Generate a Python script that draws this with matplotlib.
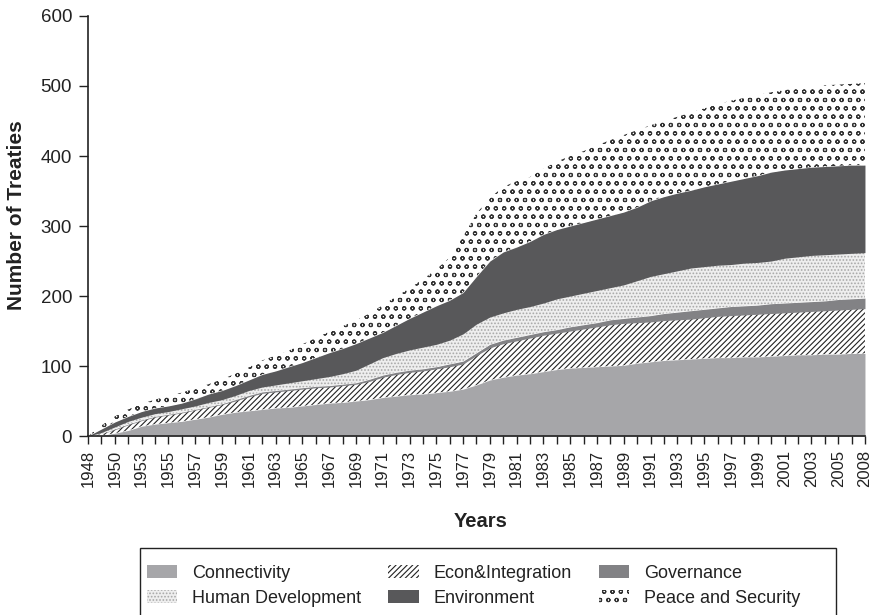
import matplotlib
matplotlib.use("Agg")
import matplotlib.pyplot as plt
from matplotlib.patches import Rectangle
import numpy as np

plt.rcParams['font.family'] = ['Liberation Sans', 'DejaVu Sans']
plt.rcParams['hatch.linewidth'] = 0.8

# years on the category axis (two years are absent in the source)
years = [1948, 1949, 1950] + list(range(1952, 2007)) + [2008]

connectivity = [0, 1, 4, 8, 14, 17, 19, 21, 24, 27, 31, 34, 36, 38, 40, 41, 43, 45, 47, 48,
                50, 52, 55, 57, 59, 60, 62, 64, 67, 73, 80, 84, 87, 89, 92, 95, 97, 98, 99, 100,
                101, 104, 106, 108, 109, 110, 111, 112, 112, 113, 113, 114, 115, 116, 116, 117, 117, 118, 118]
econ = [0, 2, 5, 8, 8, 10, 11, 12, 13, 14, 14, 16, 20, 23, 23, 24, 24, 24, 23, 24,
        24, 26, 29, 31, 32, 33, 34, 35, 36, 42, 46, 48, 49, 51, 52, 52, 53, 55, 57, 59,
        60, 58, 57, 57, 57, 57, 58, 59, 60, 60, 61, 61, 61, 61, 62, 62, 63, 63, 64]
governance = [0, 0, 1, 1, 1, 1, 1, 1, 1, 1, 1, 2, 2, 2, 2, 2, 2, 2, 2, 2,
              2, 3, 3, 3, 3, 3, 3, 4, 4, 4, 5, 5, 5, 5, 5, 5, 6, 6, 6, 7,
              7, 8, 9, 10, 11, 12, 12, 12, 13, 13, 13, 14, 14, 14, 14, 14, 15, 15, 15]
human_dev = [0, 2, 3, 4, 4, 4, 4, 5, 5, 6, 6, 6, 7, 7, 8, 9, 10, 11, 13, 15,
             18, 22, 25, 27, 29, 31, 32, 34, 39, 41, 39, 39, 40, 40, 41, 44, 44, 45, 46, 46,
             48, 52, 56, 57, 59, 61, 61, 61, 60, 61, 61, 61, 64, 65, 66, 66, 65, 65, 65]
environment = [0, 5, 7, 7, 8, 8, 8, 8, 10, 12, 13, 14, 15, 18, 20, 23, 26, 30, 34, 36,
               38, 37, 36, 40, 45, 50, 55, 57, 59, 68, 80, 87, 89, 93, 98, 99, 100, 101, 102, 103,
               104, 105, 108, 110, 111, 111, 114, 116, 119, 121, 124, 127, 126, 126, 126, 126, 126, 126, 125]
peace = [0, 5, 8, 10, 11, 12, 14, 15, 15, 14, 16, 17, 18, 20, 22, 23, 26, 28, 30, 32,
         33, 35, 39, 41, 43, 47, 52, 61, 80, 90, 90, 93, 94, 92, 94, 97, 100, 102, 105, 108,
         110, 110, 108, 108, 109, 111, 112, 114, 115, 115, 115, 114, 114, 115, 115, 116, 116, 116, 117]

labels = ['Connectivity', 'Econ&Integration', 'Governance',
          'Human Development', 'Environment', 'Peace and Security']

fig = plt.figure(figsize=(8.73, 6.15), dpi=100)
ax = fig.add_axes([0.1008, 0.291, 0.89, 0.683])

x = np.arange(len(years))
polys = ax.stackplot(x, connectivity, econ, governance, human_dev, environment, peace,
                     labels=labels)

# face colour, hatch, hatch colour
styles = [('#a6a6a9', None, '#8a8a8c'),
          ('white', '//////', '#222222'),
          ('#828285', None, '#6a6a6c'),
          ('#eeeeee', '.....', '#a8a8a8'),
          ('#58585a', None, '#3e3e40'),
          ('white', 'oo', '#333333')]
for p, (fc, h, ec) in zip(polys, styles):
    p.set_facecolor(fc)
    p.set_edgecolor(ec)
    p.set_linewidth(0)
    if h:
        p.set_hatch(h)

ax.set_xlim(0, len(years) - 1)
ax.set_ylim(0, 600)
ax.set_yticks(range(0, 601, 100))
ax.set_xticks(x)
ax.set_xticklabels([str(y) if i % 2 == 0 else '' for i, y in enumerate(years)], rotation=90)
ax.tick_params(axis='y', labelsize=13.5, length=6.5, width=1, pad=5, colors='#222222')
ax.tick_params(axis='x', labelsize=12, length=6, width=1, pad=4, colors='#222222')
for s in ['top', 'right']:
    ax.spines[s].set_visible(False)
for s in ['left', 'bottom']:
    ax.spines[s].set_linewidth(1.2)
    ax.spines[s].set_color('#222222')

ax.set_xlabel('Years', fontsize=14.5, fontweight='bold', color='#222222')
ax.set_ylabel('Number of Treaties', fontsize=15, fontweight='bold', color='#222222')
ax.xaxis.set_label_coords(0.505, -0.18)
ax.yaxis.set_label_coords(-0.08, 0.525)

# legend box, running off the bottom edge as in the original
fig.patches.append(Rectangle((140 / 873, -0.02), 696 / 873, 0.02 + 67 / 615,
                             transform=fig.transFigure, fill=False,
                             edgecolor='#222222', linewidth=1.0))

# legend filled row by row like the original
order = [0, 3, 1, 4, 2, 5]
leg = fig.legend([polys[i] for i in order], [labels[i] for i in order],
                 loc='upper left', bbox_to_anchor=(147 / 873, 1 - 565 / 615), ncol=3,
                 fontsize=13, frameon=False, borderpad=0, borderaxespad=0,
                 handlelength=1.67, handleheight=0.72, handletextpad=0.83,
                 columnspacing=1.5, labelspacing=0.42)
for t in leg.get_texts():
    t.set_color('#222222')

fig.savefig('out.png', dpi=100)
